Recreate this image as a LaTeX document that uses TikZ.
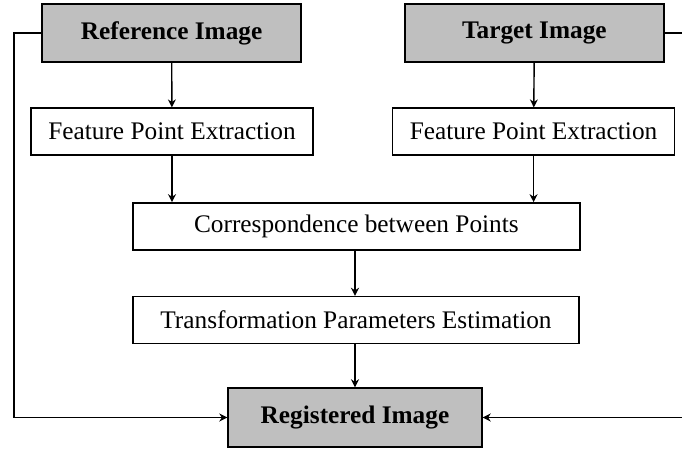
\documentclass[tikz,border=0pt]{standalone}
\usepackage{fontspec}
\setmainfont{Liberation Serif}
\usetikzlibrary{arrows.meta}
\tikzset{
	stage/.style = {draw, line width = 1pt, minimum width = 7.05cm, minimum height = 1.175cm, inner sep = 0pt},
	image/.style = {stage, fill = gray!50, font = \bfseries\fontsize{18}{21}\selectfont, minimum height = 1.45cm},
	flow/.style = {line width = 1pt, -{Stealth[length = 2mm, width = 2mm]}}
}
\begin{document}
\begin{tikzpicture}[font = \fontsize{18}{21}\selectfont]
	\useasboundingbox (0,0) rectangle (17.05,11.3);
	\path
	(4.29,10.475) coordinate (r)
	(13.36,10.475) coordinate (t)
	(4.3,8.01) coordinate (fr)
	(13.34,8.01) coordinate (ft)
	(8.91,5.64) coordinate (c)
	(8.9,3.3) coordinate (p)
	(8.875,0.8625) coordinate (g)
	;
	\node[image, minimum width = 6.475cm] (ref) at (r) {Reference Image};
	\node[image, minimum width = 6.475cm] (tgt) at (t) {Target Image};
	\node[stage] (fpeR) at (fr) {Feature Point Extraction};
	\node[stage] (fpeT) at (ft) {Feature Point Extraction};
	\node[stage, minimum width = 11.175cm] (corr) at (c) {Correspondence between Points};
	\node[stage, minimum width = 11.15cm] (trans) at (p) {Transformation Parameters Estimation};
	\node[image, minimum width = 6.35cm, minimum height = 1.475cm] (reg) at (g) {Registered Image};
	% straight arrows down
	\draw[flow] (ref) -- (fpeR);
	\draw[flow] (tgt) -- (fpeT);
	\draw[flow] (fpeR) -- (fpeR |- corr.north);
	\draw[flow] (fpeT) -- (fpeT |- corr.north);
	\draw[flow] (corr.south -| reg) -- (trans.north -| reg);
	\draw[flow] (trans.south -| reg) -- (reg);
	% side loops
	\draw[flow] (ref.west) -- (0.35,10.475) |- (reg.west);
	\draw[flow] (tgt.east) -- (17.1,10.475) |- (reg.east);
\end{tikzpicture}
\end{document}
